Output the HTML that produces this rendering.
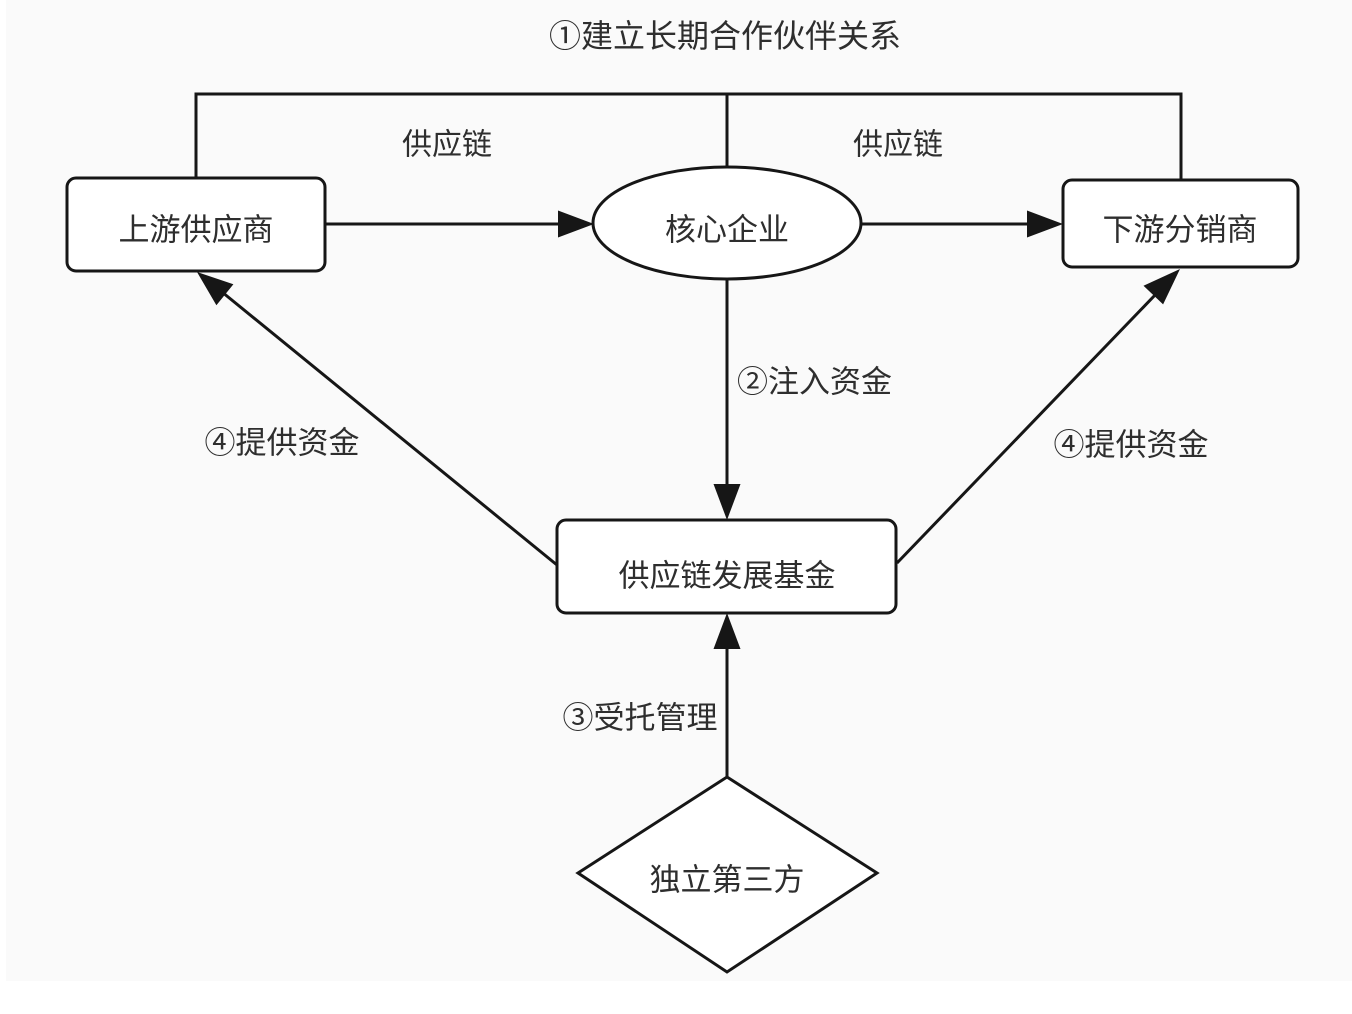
<!DOCTYPE html>
<html>
<head>
<meta charset="utf-8">
<style>
html,body{margin:0;padding:0;background:#fff;}
body{width:1352px;height:1014px;overflow:hidden;}
svg{display:block;}
text{font-family:"Liberation Sans","Noto Sans CJK SC",sans-serif;fill:#2e2e2e;}
</style>
</head>
<body>
<svg width="1352" height="1014" viewBox="0 0 1352 1014" xmlns="http://www.w3.org/2000/svg">
  <rect x="6" y="0" width="1346" height="981" fill="#fafafa"/>
  <g stroke="#161616" stroke-width="3" fill="none">
    <!-- top bracket -->
    <polyline points="196,178 196,94 1181,94 1181,180"/>
    <line x1="727" y1="94" x2="727" y2="167"/>
    <!-- boxes -->
    <rect x="67" y="178" width="258" height="93" rx="9" fill="#fff"/>
    <rect x="1063" y="180" width="235" height="87" rx="9" fill="#fff"/>
    <ellipse cx="727" cy="223" rx="134" ry="56" fill="#fff"/>
    <rect x="557" y="520" width="339" height="93" rx="9" fill="#fff"/>
    <polygon points="727,777 877,873 727,972 578,873" fill="#fff"/>
    <!-- connectors -->
    <line x1="325" y1="224" x2="560" y2="224"/>
    <line x1="861" y1="224" x2="1030" y2="224"/>
    <line x1="727" y1="279" x2="727" y2="488"/>
    <line x1="727" y1="777" x2="727" y2="646"/>
    <line x1="557" y1="565" x2="222" y2="292"/>
    <line x1="897" y1="563" x2="1157" y2="293"/>
  </g>
  <g fill="#161616" stroke="none">
    <!-- arrowheads -->
    <polygon points="594,224 558,210.5 558,237.5"/>
    <polygon points="1063,224 1027,210.5 1027,237.5"/>
    <polygon points="727,520 713.5,484 740.5,484"/>
    <polygon points="727,613 713.5,649 740.5,649"/>
    <polygon points="197,272 233.4,284.2 216.4,305.2"/>
    <polygon points="1180,269 1163.1,304.4 1143.5,285.8"/>
  </g>
  <g dominant-baseline="central">
    <text x="725" y="36" font-size="32" text-anchor="middle">①建立长期合作伙伴关系</text>
    <text x="447" y="145" font-size="30" text-anchor="middle">供应链</text>
    <text x="898" y="145" font-size="30" text-anchor="middle">供应链</text>
    <text x="196" y="230" font-size="31" text-anchor="middle">上游供应商</text>
    <text x="727" y="230" font-size="31" text-anchor="middle">核心企业</text>
    <text x="1180" y="230" font-size="31" text-anchor="middle">下游分销商</text>
    <text x="737" y="382" font-size="31" text-anchor="start">②注入资金</text>
    <text x="282" y="443" font-size="31" text-anchor="middle">④提供资金</text>
    <text x="1131" y="445" font-size="31" text-anchor="middle">④提供资金</text>
    <text x="727" y="576" font-size="31" text-anchor="middle">供应链发展基金</text>
    <text x="640" y="718" font-size="31" text-anchor="middle">③受托管理</text>
    <text x="727" y="880" font-size="31" text-anchor="middle">独立第三方</text>
  </g>
</svg>
</body>
</html>
